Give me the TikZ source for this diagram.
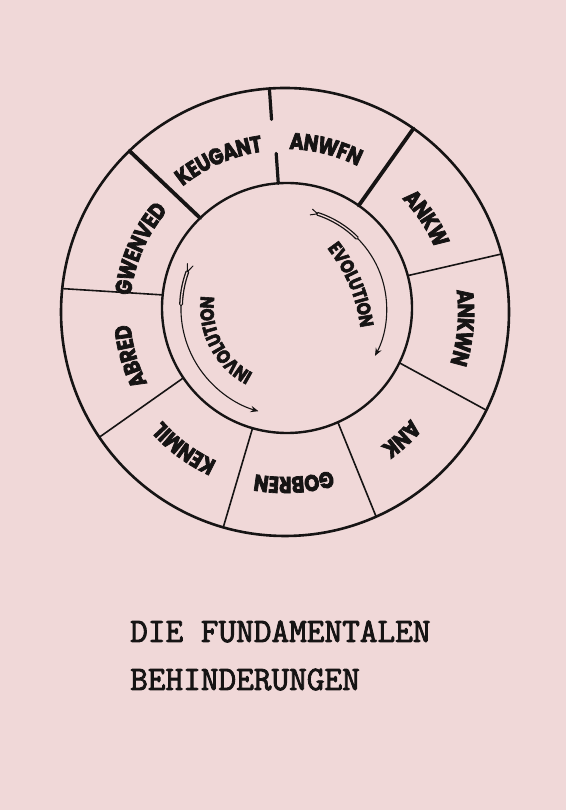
\documentclass[tikz,border=0pt]{standalone}
\usepackage{fontspec}
\usetikzlibrary{arrows.meta,calc,decorations.text}
\newfontfamily\ringfont{Poppins}[UprightFont={* Bold},FakeBold=3,FakeStretch=0.84]
\setmonofont{Latin Modern Mono}[FakeBold=2.5]
\definecolor{paper}{RGB}{240,216,216}
\definecolor{ink}{RGB}{22,20,20}
\newcommand\ringfmt{\ringfont\fontsize{23}{27}\selectfont\color{ink}}
\newcommand\innerfmt{\ringfont\fontsize{19}{23}\selectfont\color{ink}}
\tikzset{
  ringtext/.style={decorate,decoration={text along path,text align=center,raise=-8pt,text={|\ringfmt|#1}}},
  innertext/.style={decorate,decoration={text along path,text align=center,raise=-6.6pt,text={|\innerfmt|#1}}},
  spoke/.style={ink,line width=1.6pt},
  thickspoke/.style={ink,line width=3.8pt},
  tail/.style={ink,line width=1.3pt,double=paper,double distance=1.3pt},
  turn/.style={ink,line width=1.1pt,-{Stealth[length=8pt,width=6.5pt,inset=3pt]}},
}
\begin{document}
\begin{tikzpicture}[x=1pt,y=1pt,line cap=round]
\useasboundingbox (0,0) rectangle (566,810);
% 背景
\fill[paper] (0,0) rectangle (566,810);
\coordinate (O) at (285,498);
\coordinate (I) at (287,502);
% 円
\draw[ink,line width=2.6pt] (O) circle[radius=224];
\draw[ink,line width=2.4pt] (I) circle[radius=125];
% 区切り
\foreach \a in {15,-26,-66,-106,-146,174}
  \draw[spoke] ($(I)+(\a:125)$) -- ($(O)+(\a:224)$);
\draw[thickspoke] ($(I)+(55:125)$) -- ($(O)+(55:224)$);
\draw[thickspoke] ($(I)+(134:125)$) -- ($(O)+(134:224)$);
\draw[ink,line width=3.2pt] ($(O)+(94:224)$) -- ($(O)+(94:193)$);
\draw[ink,line width=3.2pt] ($(I)+(94:155)$) -- ($(I)+(94:125)$);
% 外側の名前
\path[ringtext=KEUGANT] ($(O)+(143.5:170)$) arc[start angle=143.5,end angle=83.5,radius=170];
\path[ringtext=ANWFN] ($(O)+(106:171)$) arc[start angle=106,end angle=46,radius=171];
\path[ringtext=ANKW] ($(O)+(63.5:171)$) arc[start angle=63.5,end angle=3.5,radius=171];
\path[ringtext=ANKWN] ($(O)+(25:181)$) arc[start angle=25,end angle=-35,radius=181];
\path[ringtext=ANK] ($(O)+(-17.5:173)$) arc[start angle=-17.5,end angle=-77.5,radius=173];
\path[ringtext=GOBREN] ($(O)+(-57:173)$) arc[start angle=-57,end angle=-117,radius=173];
\path[ringtext=KENMIL] ($(O)+(-96.5:172)$) arc[start angle=-96.5,end angle=-156.5,radius=172];
\path[ringtext=ABRED] ($(O)+(-134:163)$) arc[start angle=-134,end angle=-194,radius=163];
\path[ringtext=GWENVED] ($(O)+(186.5:163)$) arc[start angle=186.5,end angle=126.5,radius=163];
% 内側
\path[innertext=EVOLUTION] (321,580) to[bend left=18] (369,465);
\path[innertext=INVOLUTION] ($(I)+(262:80)$) arc[start angle=262,end angle=152,radius=80];
% 矢印
\draw[turn] ($(I)+(72:99)$) arc[start angle=72,end angle=-28,radius=100];
\draw[tail] ($(I)+(72:99)$) arc[start angle=72,end angle=45,radius=99];
\draw[ink,line width=1pt] ($(I)+(72:99)$) -- ($(I)+(75.5:102)$);
\draw[ink,line width=1pt] ($(I)+(72:99)$) -- ($(I)+(76:96)$);
\draw[turn] ($(I)+(160:106)$) arc[start angle=160,end angle=254,radius=107];
\draw[tail] ($(I)+(160:106)$) arc[start angle=160,end angle=178,radius=106];
\draw[ink,line width=1pt] ($(I)+(160:106)$) -- ($(I)+(156:109)$);
\draw[ink,line width=1pt] ($(I)+(160:106)$) -- ($(I)+(156:103)$);
% 表題
\node[anchor=base west,inner sep=0,text=ink,font=\ttfamily\fontsize{34.3}{36}\selectfont] (titleA) at (130,168) {DIE FUNDAMENTALEN};
\node[anchor=base west,inner sep=0,text=ink,font=\ttfamily\fontsize{34.3}{36}\selectfont] (titleB) at (130,120) {BEHINDERUNGEN};
\end{tikzpicture}
\end{document}
